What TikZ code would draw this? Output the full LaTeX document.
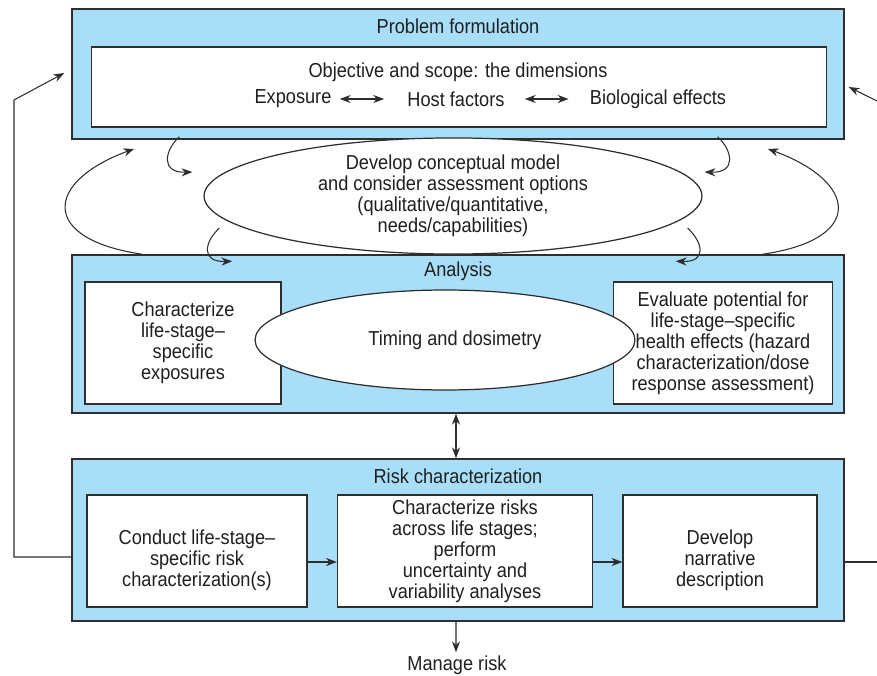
\documentclass[tikz,border=0pt]{standalone}
\usepackage{fontspec}
\setmainfont{Liberation Sans}[FakeStretch=0.9]
\usepackage{xcolor}
\usetikzlibrary{arrows.meta,shapes.geometric}
\definecolor{panelblue}{HTML}{A9DEF9}
\definecolor{edgegray}{HTML}{2E2E2E}

\begin{document}
\begin{tikzpicture}[x=0.02cm,y=-0.02cm,>={Stealth[length=6.2pt,width=4.6pt]},
 every node/.style={font=\fontsize{11.5}{12}\selectfont,text=black!88},
 panel/.style={draw=edgegray,line width=0.9pt,fill=panelblue,minimum width=15.44cm,inner sep=0pt},
 box/.style={draw=edgegray,line width=0.7pt,fill=white,align=center,inner sep=0pt},
 oval/.style={ellipse,draw=edgegray,line width=0.7pt,fill=white,align=center,inner sep=0pt},
 title/.style={inner sep=0pt},
 arrow/.style={->,line width=0.6pt,draw=edgegray},
 line/.style={line width=0.6pt,draw=edgegray}]
\useasboundingbox (0,0) rectangle (877,676);

% problem formulation
\node[panel,minimum height=2.6cm] (pf) at (458,74) {};
\node[title] (pft) at ([shift={(0,18)}]pf.north) {Problem formulation};
\node[box,minimum width=14.7cm,minimum height=1.6cm] (pfin) at (459,87) {};
\node[title] (obj) at (458,72) {Objective and scope: the dimensions};
\node[title] (exp) at (293,99) {Exposure};
\node[title] (host) at (456,99) {Host factors};
\node[title] (bio) at (658,99) {Biological effects};
\draw[arrow,<->] ([xshift=0.16cm]exp.east) -- ([xshift=-0.46cm]host.west);
\draw[arrow,<->] ([xshift=0.4cm]host.east) -- ([xshift=-0.42cm]bio.west);

% analysis
\node[panel,minimum height=3.16cm] (an) at (458,334) {};
\node[title] (ant) at ([shift={(0,17)}]an.north) {Analysis};
\node[box,minimum width=3.92cm,minimum height=2.44cm] (expo) at (183,343)
 {Characterize\\life-stage--\\specific\\exposures};
\node[box,minimum width=4.38cm,minimum height=2.44cm] (health) at (723,343)
 {Evaluate potential for\\life-stage--specific\\health effects (hazard\\characterization/dose\\response assessment)};
\node[oval,minimum width=7.6cm,minimum height=2.0cm] (timing) at (445,340) {\hspace*{0.4cm}Timing and dosimetry};

% conceptual model
\node[oval,minimum width=9.96cm,minimum height=2.24cm] (cm) at (453,196)
 {Develop conceptual model\\and consider assessment options\\(qualitative/quantitative,\\needs/capabilities)};

% risk characterization
\node[panel,minimum height=3.24cm] (rc) at (458,540) {};
\node[title] (rct) at ([shift={(0,18)}]rc.north) {Risk characterization};
\node[box,minimum width=4.4cm,minimum height=2.24cm] (conduct) at (197,551)
 {\\[7pt]Conduct life-stage--\\specific risk\\characterization(s)};
\node[box,minimum width=5.1cm,minimum height=2.24cm] (across) at (465,551)
 {Characterize risks\\across life stages;\\perform\\uncertainty and\\variability analyses};
\node[box,minimum width=3.88cm,minimum height=2.24cm] (narr) at (720,551)
 {\\[7pt]Develop\\narrative\\description};
\node[title] (mng) at (457,665) {Manage risk};

\draw[arrow] ([shift={(0,11)}]conduct.east) -- ([shift={(0,11)}]across.west);
\draw[arrow] ([shift={(0,11)}]across.east) -- ([shift={(0,11)}]narr.west);
\draw[arrow,<->] ([xshift=-0.04cm]an.south) -- ([xshift=-0.04cm]rc.north);
\draw[arrow] ([xshift=-0.04cm]rc.south) -- ([shift={(-1,-3)}]mng.north);

% feedback loops
\coordinate (fbl) at (14,100);
\coordinate (fbr) at (877,101);
\coordinate (fbrb) at (877,562);
\draw[arrow] ([shift={(0,17)}]rc.west) -| (fbl) -- ([shift={(-7,-1)}]pf.west);
\draw[line] ([shift={(0,22)}]rc.east) -- (fbrb);
\draw[arrow] (fbr) -- ([shift={(4,13)}]pf.east);

% curved arrows round the conceptual model
\draw[arrow] ([shift={(71,0)}]an.north west) .. controls +(-103,-15) and +(-90,33) .. ([shift={(63,9)}]pf.south west);
\draw[arrow] ([shift={(-82,0)}]an.north east) .. controls +(103,-15) and +(90,33) .. ([shift={(-77,9)}]pf.south east);
\draw[arrow] ([shift={(108,-3)}]pf.south west) .. controls +(-15,14) and +(-32,1) .. ([shift={(-11,-24)}]cm.west);
\draw[arrow] ([shift={(16,32)}]cm.west) .. controls +(-15,14) and +(-32,1) .. ([shift={(161,7)}]an.north west);
\draw[arrow] ([shift={(-127,-3)}]pf.south east) .. controls +(15,14) and +(32,1) .. ([shift={(2,-24)}]cm.east);
\draw[arrow] ([shift={(-15,32)}]cm.east) .. controls +(15,14) and +(32,1) .. ([shift={(-169,7)}]an.north east);
\end{tikzpicture}
\end{document}
